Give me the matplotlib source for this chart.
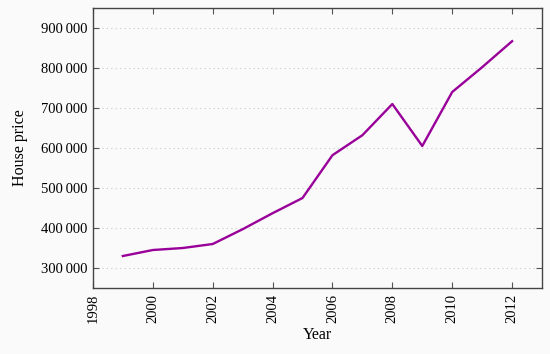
import matplotlib
matplotlib.use("Agg")
import matplotlib.pyplot as plt
from matplotlib.ticker import FuncFormatter

# values
years = [1999, 2000, 2001, 2002, 2003, 2004, 2005, 2006, 2007, 2008, 2009, 2010, 2011, 2012]
prices = [330000, 345000, 350000, 360000, 397000, 437000, 475000, 582000, 632000,
          710000, 605000, 740000, 802000, 867000]
x_ticks = [1998, 2000, 2002, 2004, 2006, 2008, 2010, 2012]
y_ticks = [300000, 400000, 500000, 600000, 700000, 800000, 900000]

plt.rcParams['font.family'] = ['Liberation Serif', 'DejaVu Serif']

fig = plt.figure(figsize=(5.5, 3.54), dpi=100, facecolor='#fafafa')
ax = fig.add_axes([0.169, 0.1864, 0.8165, 0.791])
ax.set_facecolor('#fafafa')

ax.plot(years, prices, color='#990099', linewidth=1.7)

ax.set_xlim(1998, 2013)
ax.set_ylim(250000, 950000)
ax.set_xticks(x_ticks)
ax.set_yticks(y_ticks)
# thin space as thousands separator, like pgfplots
ax.yaxis.set_major_formatter(FuncFormatter(lambda v, p: '{:,}'.format(int(v)).replace(',', '\u2009')))
ax.grid(axis='y', linestyle=(0, (1, 3)), color='#c8c8c8', linewidth=0.8)

ax.tick_params(direction='in', length=4, width=0.8, color='#555555',
               top=True, right=True, labelsize=10.5, labelcolor='black', pad=4)
plt.setp(ax.get_xticklabels(), rotation=90)
for s in ax.spines.values():
    s.set_color('#444444')
    s.set_linewidth(1.0)

ax.set_xlabel('Year', fontsize=11.5, labelpad=3)
ax.set_ylabel('House price', fontsize=11.5, labelpad=9)

fig.savefig('out.png', dpi=100, facecolor=fig.get_facecolor())
